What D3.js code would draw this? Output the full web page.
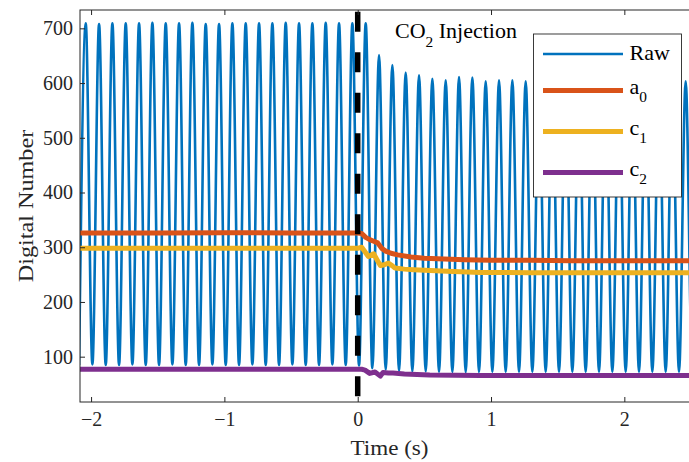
<!DOCTYPE html>
<html>
<head>
<meta charset="utf-8">
<script src="https://cdn.jsdelivr.net/npm/d3@7"></script>
<style>
  html, body { margin: 0; padding: 0; background: #ffffff; }
  svg { display: block; }
</style>
</head>
<body>
<svg id="chart" width="689" height="462"></svg>
<script>
// ---------------- data ----------------
// Raw signal: alternating trough / peak values, sampled every half period (s)
const rawStart = -2.09;
const rawHalfPeriod = 0.05;
const rawValues = [
  85,709, 86,708, 85,709, 85,709, 86,709, 85,710, 85,709, 86,709, 85,710, 85,708,
  86,708, 85,709, 85,709, 86,709, 85,709, 85,710, 86,709, 85,709, 85,710, 86,709,
  85,709,
  84,709, 79,651, 76,633, 74,619, 73,614, 73,608, 72,605, 72,611, 72,610, 72,603,
  72,605, 72,605, 72,603, 72,604, 72,603, 72,604, 72,605, 72,603, 72,604, 72,603,
  72,604, 72,604, 72,603, 72,604, 72,603, 72,603, 72
];

const a0Times  = [-2.09, -1.5, -1.0, -0.5, 0.0, 0.03, 0.06, 0.09, 0.12, 0.15, 0.18, 0.21, 0.25, 0.30, 0.40, 0.50, 0.60, 0.80, 1.00, 1.30, 1.60, 2.00, 2.60];
const a0Values = [326, 326, 326.5, 326, 326, 325, 318, 314, 311, 308, 298, 293, 289, 286, 282, 280, 279, 277, 276, 276, 275.5, 275.5, 275.5];

const c1Times  = [-2.09, -1.5, -1.0, -0.5, 0.0, 0.03, 0.06, 0.08, 0.12, 0.15, 0.17, 0.20, 0.23, 0.26, 0.28, 0.35, 0.42, 0.67, 0.92, 1.30, 2.00, 2.60];
const c1Values = [298, 298, 298, 298, 298, 300, 290, 283, 288, 275, 266.5, 268, 271, 266, 262, 260, 259, 256, 254, 253.5, 253.5, 253.5];

const c2Times  = [-2.09, -1.5, -1.0, -0.5, 0.0, 0.03, 0.055, 0.09, 0.13, 0.17, 0.19, 0.23, 0.265, 0.35, 0.54, 0.92, 1.50, 2.60];
const c2Values = [77, 77, 77, 77, 77, 77, 75.5, 69.5, 72, 64.5, 71, 70, 70, 68.5, 66.5, 65.5, 65.5, 65.5];

const xTicks = [-2, -1, 0, 1, 2];
const yTicks = [100, 200, 300, 400, 500, 600, 700];
const injectionTime = 0;

const seriesNames  = ["Raw", "a", "c", "c"];
const seriesSubs   = ["", "0", "1", "2"];
const seriesColors = ["#0072BD", "#D95319", "#EDB120", "#7E2F8E"];

// ---------------- layout ----------------
const W = 689, H = 462;
const L = 80, T = 10, R = 699, B = 402;
const FONT = "'Palatino Linotype', 'Book Antiqua', Palatino, 'Liberation Serif', 'Times New Roman', serif";
const AX = "#262626";

const svg = d3.select("#chart");
svg.append("rect").attr("width", W).attr("height", H).attr("fill", "#fff");

const x = d3.scaleLinear().domain([-2.083, 2.56]).range([L, R]);
const y = d3.scaleLinear().domain([17.2, 733.5]).range([B, T]);

svg.append("clipPath").attr("id", "plotclip")
  .append("rect").attr("x", L).attr("y", T).attr("width", R - L).attr("height", B - T);

const plot = svg.append("g").attr("clip-path", "url(#plotclip)");

// raw
const rawPts = rawValues.map((v, i) => [rawStart + i * rawHalfPeriod, v]);
const line = d3.line().x(d => x(d[0])).y(d => y(d[1]));
plot.append("path")
  .attr("d", line.curve(d3.curveMonotoneX)(rawPts))
  .attr("fill", "none").attr("stroke", seriesColors[0]).attr("stroke-width", 2.6)
  .attr("stroke-linejoin", "round");

const lin = d3.line().x(d => x(d[0])).y(d => y(d[1])).curve(d3.curveLinear);
[[a0Times, a0Values, 1], [c1Times, c1Values, 2], [c2Times, c2Values, 3]].forEach(([ts, vs, ci]) => {
  plot.append("path")
    .attr("d", lin(ts.map((t, i) => [t, vs[i]])))
    .attr("fill", "none").attr("stroke", seriesColors[ci]).attr("stroke-width", 5)
    .attr("stroke-linejoin", "round");
});

// dashed injection line
plot.append("line")
  .attr("x1", x(injectionTime)).attr("x2", x(injectionTime))
  .attr("y1", T).attr("y2", B)
  .attr("stroke", "#000").attr("stroke-width", 5.5)
  .attr("stroke-dasharray", "20 20.5").attr("stroke-dashoffset", 38.8);

// axes
function styleAxis(g) {
  g.select(".domain").remove();
  g.selectAll(".tick line").attr("stroke", AX).attr("stroke-width", 1);
  g.selectAll(".tick text").attr("fill", "#262626")
    .style("font-family", FONT).style("font-size", "20px");
}
svg.append("g").attr("transform", `translate(0,${B})`)
  .call(d3.axisBottom(x).tickValues(xTicks).tickFormat(d3.format("d")).tickSizeInner(-5).tickSizeOuter(0).tickPadding(10))
  .call(styleAxis);
svg.append("g").attr("transform", `translate(0,${T})`)
  .call(d3.axisTop(x).tickValues(xTicks).tickSizeInner(-5).tickSizeOuter(0).tickFormat(""))
  .call(styleAxis);
svg.append("g").attr("transform", `translate(${L},0)`)
  .call(d3.axisLeft(y).tickValues(yTicks).tickFormat(d3.format("d")).tickSizeInner(-5).tickSizeOuter(0).tickPadding(7))
  .call(styleAxis);
svg.append("g").attr("transform", `translate(${R},0)`)
  .call(d3.axisRight(y).tickValues(yTicks).tickSizeInner(-5).tickSizeOuter(0).tickFormat(""))
  .call(styleAxis);

svg.append("rect").attr("x", L).attr("y", T).attr("width", R - L).attr("height", B - T)
  .attr("fill", "none").attr("stroke", AX).attr("stroke-width", 1);

// axis titles
svg.append("text")
  .attr("transform", `translate(389.5,455) scale(1.1,1)`)
  .attr("text-anchor", "middle")
  .style("font-family", FONT).style("font-size", "21px").attr("fill", "#262626")
  .text("Time (s)");
svg.append("text")
  .attr("transform", `translate(33,206) rotate(-90) scale(1.1,1)`)
  .attr("text-anchor", "middle")
  .style("font-family", FONT).style("font-size", "22px").attr("fill", "#262626")
  .text("Digital Number");

// annotation
const ann = svg.append("text")
  .attr("transform", `translate(395,38.3) scale(1.1,1)`)
  .style("font-family", FONT).style("font-size", "20px").attr("fill", "#000");
ann.append("tspan").text("CO");
ann.append("tspan").attr("dy", 9).style("font-size", "14px").text("2");
ann.append("tspan").attr("dy", -9).text(" Injection");

// legend
const lg = svg.append("g");
lg.append("rect").attr("x", 533.5).attr("y", 34).attr("width", 148).attr("height", 163)
  .attr("fill", "#fff").attr("stroke", AX).attr("stroke-width", 0.9);
const rowY = [54, 90.5, 131.5, 172.5];
seriesNames.forEach((nm, i) => {
  lg.append("line").attr("x1", 543).attr("x2", 623).attr("y1", rowY[i]).attr("y2", rowY[i])
    .attr("stroke", seriesColors[i]).attr("stroke-width", i === 0 ? 2.6 : 5);
  const t = lg.append("text")
    .attr("transform", `translate(629.5,${rowY[i] + (i === 0 ? 6 : 3)}) scale(1.1,1)`)
    .style("font-family", FONT).style("font-size", "20px").attr("fill", "#000");
  t.append("tspan").text(nm);
  if (seriesSubs[i]) t.append("tspan").attr("dy", 8.5).style("font-size", "14px").text(seriesSubs[i]);
});
</script>
</body>
</html>
